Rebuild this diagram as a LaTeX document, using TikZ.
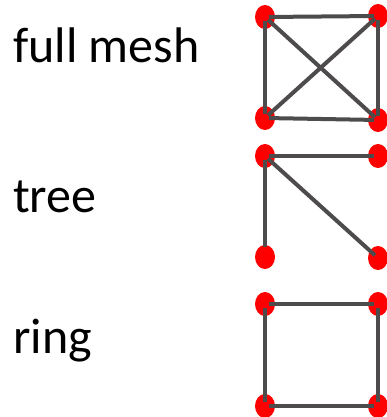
\documentclass[tikz,border=0pt]{standalone}
\usepackage{fontspec}
\setmainfont{Carlito}
\definecolor{edgegray}{HTML}{4D4B4C}
\tikzset{
  vtx/.style={ellipse, fill=red, minimum width=20pt, minimum height=24pt, inner sep=0pt},
  lnk/.style={draw=edgegray, line width=4pt, shorten <=4pt, shorten >=4pt},
  lbl/.style={anchor=base west, inner sep=0pt, font=\fontsize{50}{50}\selectfont}
}
\usetikzlibrary{shapes.geometric}
\begin{document}
\begin{tikzpicture}[x=1pt,y=-1pt]
\useasboundingbox (0,0) rectangle (387,417);
% labels
\node[lbl] (l1) at (13,63) {full mesh};
\node[lbl] (l2) at (13,212) {tree};
\node[lbl] (l3) at (13,353) {ring};
% full mesh
\node[vtx] (a1) at (265,17) {};
\node[vtx] (a2) at (378,16) {};
\node[vtx] (a3) at (265,118) {};
\node[vtx] (a4) at (378,120) {};
\draw[lnk] (a1.center) -- (a2.center);
\draw[lnk] (a1.center) -- (a3.center);
\draw[lnk] (a2.center) -- (a4.center);
\draw[lnk] (a3.center) -- (a4.center);
\draw[lnk] (a1.center) -- (a4.center);
\draw[lnk] (a3.center) -- (a2.center);
% tree
\node[vtx] (b1) at (265,156) {};
\node[vtx] (b2) at (378,156) {};
\node[vtx] (b3) at (265,257) {};
\node[vtx] (b4) at (378,258) {};
\draw[lnk] (b1.center) -- (b2.center);
\draw[lnk,shorten >=10pt] (b1.center) -- (b3.center);
\draw[lnk] (b1.center) -- (b4.center);
% ring
\node[vtx] (c1) at (265,304) {};
\node[vtx] (c2) at (378,304) {};
\node[vtx] (c3) at (265,406) {};
\node[vtx] (c4) at (378,406) {};
\draw[lnk] (c1.center) -- (c2.center);
\draw[lnk] (c1.center) -- (c3.center);
\draw[lnk] (c2.center) -- (c4.center);
\draw[lnk] (c3.center) -- (c4.center);
\end{tikzpicture}
\end{document}
